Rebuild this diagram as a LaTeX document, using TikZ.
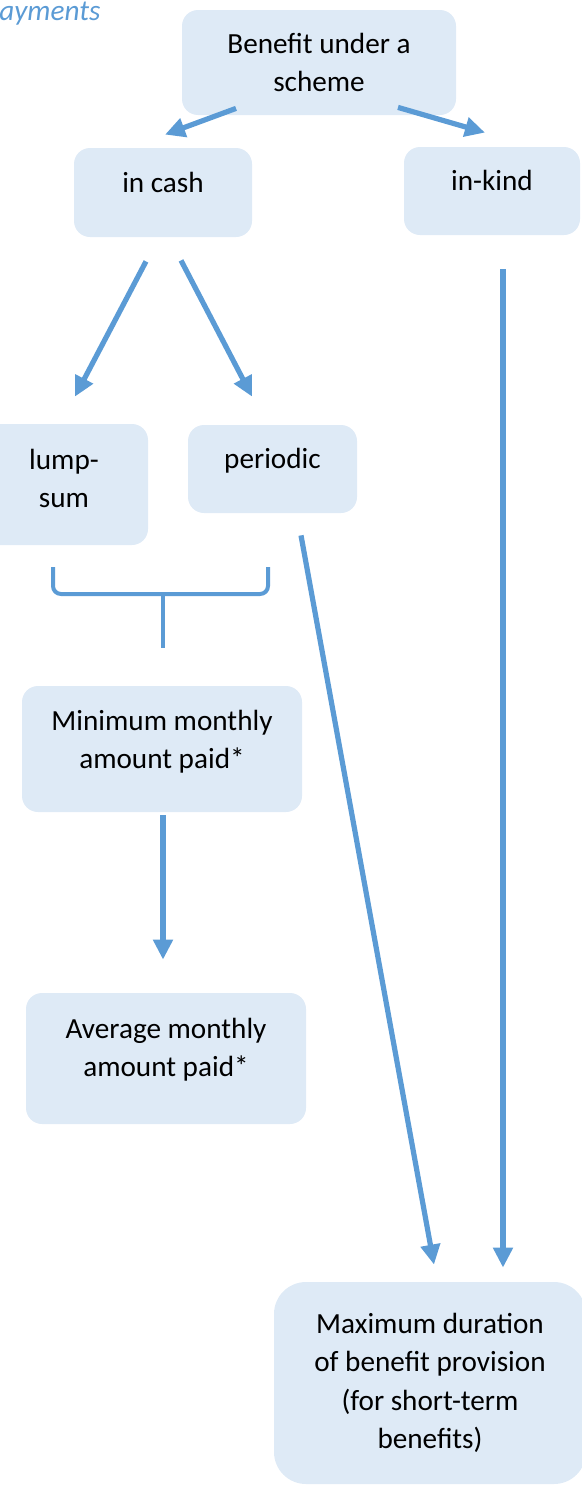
\documentclass[tikz,border=0pt]{standalone}
\usepackage{fontspec}
\setmainfont{Carlito}
\usetikzlibrary{arrows.meta,calc,positioning}
\definecolor{boxfill}{RGB}{222,234,246}
\definecolor{flowblue}{RGB}{91,155,213}
\newcommand{\boxfont}{\fontsize{14.6}{19.25}\selectfont}
\newcommand{\lowstrut}[1]{\rule[-#1]{0pt}{0pt}}
\tikzset{
  box/.style={fill=boxfill,rounded corners=8pt,align=center,inner sep=0pt,font=\boxfont},
  flow/.style={draw=flowblue,line width=2.6pt,-{Triangle[length=10pt,width=9.5pt]}},
  brace/.style={draw=flowblue,line width=2pt,rounded corners=4pt}
}

\begin{document}
\begin{tikzpicture}[x=0.5pt,y=-0.5pt]
  \useasboundingbox (0,0) rectangle (582,1499);
  \node[anchor=base west,inner sep=0pt,text=flowblue,font=\boxfont\itshape] (title) at (-1,20) {ayments};
  \node[box,minimum width=137pt,minimum height=52.5pt] (scheme) at (319,62.5) {Benefit under a\\scheme};
  \node[box,minimum width=89pt,minimum height=44.5pt,text depth=10pt] (cash) at (163,192.5) {in cash};
  \node[box,minimum width=88pt,minimum height=44pt,text depth=11pt] (kind) at (492,191) {in-kind};
  \node[box,minimum width=84pt,minimum height=60.5pt] (lump) at (64,484.5) {lump-\\sum\lowstrut{6pt}};
  \node[box,minimum width=84.5pt,minimum height=44pt,text depth=11pt] (periodic) at (272.5,469) {periodic};
  \node[box,minimum width=140pt,minimum height=63pt] (minamt) at (162,749) {Minimum monthly\\amount paid*\lowstrut{9.5pt}};
  \node[box,minimum width=140pt,minimum height=65.5pt] (avgamt) at (166,1058.5) {Average monthly\\amount paid*\lowstrut{11pt}};
  \node[box,minimum width=156pt,minimum height=101pt,rounded corners=16pt] (maxdur) at (430,1383)
     {Maximum duration\\of benefit provision\\(for short-term\\benefits)};
  \draw[flow] ($(scheme.south)+(-83,-7)$) -- ($(cash.north)+(2,-13)$);
  \draw[flow] ($(scheme.south)+(79,-8)$) -- ($(kind.north)+(-7,-14)$);
  \draw[flow] ($(cash.south)+(-17,24)$) -- ($(lump.north)+(11,-27)$);
  \draw[flow] ($(cash.south)+(18,23)$) -- ($(periodic.north)+(-20.5,-28)$);
  \draw[flow] ($(kind.south)+(11,34)$) -- ($(maxdur.north)+(73,-14)$);
  \draw[flow] ($(periodic.south)+(28.5,22)$) -- ($(maxdur.north)+(4,-17)$);
  \draw[flow] ($(minamt.south)+(1,3)$) -- ($(avgamt.north)+(-3,-33)$);
  \draw[brace] (53,567) -- (53,594) -- (268,594) -- (268,567);
  \draw[brace] (163,594) -- (163,648);
\end{tikzpicture}
\end{document}
